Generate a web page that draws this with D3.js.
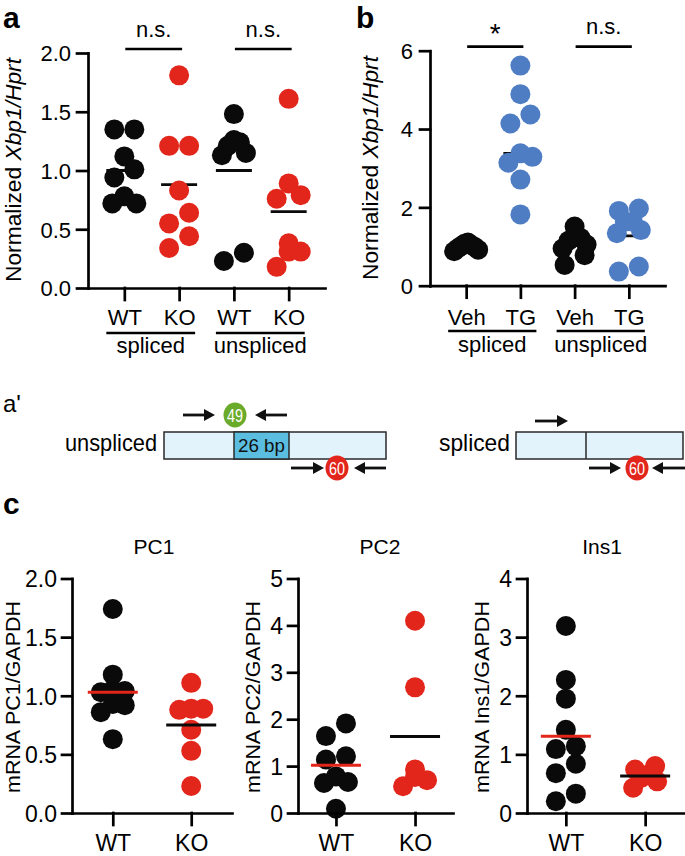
<!DOCTYPE html>
<html><head><meta charset="utf-8">
<script src="https://cdn.jsdelivr.net/npm/d3@7"></script>
<style>
body{margin:0;background:#fff}
svg{display:block}
text{font-family:"Liberation Sans",Arial,Helvetica,sans-serif}
</style>
</head><body>
<svg id="fig" width="685" height="856"></svg>
<script>
// ================= DATA =================
// panel a
const catsA = ["WT","KO","WT","KO"];
const groupsA = ["spliced","unspliced"];
const wtSplicedA   = [1.35,1.35,1.12,1.01,0.94,0.78,0.72,0.72];
const koSplicedA   = [1.81,1.21,1.21,0.83,0.64,0.55,0.44,0.34];
const wtUnsplicedA = [1.48,1.26,1.24,1.21,1.15,1.13,0.30,0.23];
const koUnsplicedA = [1.61,0.89,0.79,0.76,0.38,0.31,0.31,0.18];
const centerA = [1.00,0.88,1.00,0.65];
const sigA = ["n.s.","n.s."];
const ticksA = [0,0.5,1,1.5,2];
// panel b
const catsB = ["Veh","TG","Veh","TG"];
const groupsB = ["spliced","unspliced"];
const vehSplicedB   = [1.10,1.07,1.04,1.01,0.99,0.95,0.92,0.88];
const tgSplicedB    = [5.62,4.89,4.37,4.14,3.38,3.29,3.14,2.71,1.82];
const vehUnsplicedB = [1.51,1.28,1.22,1.15,1.05,0.95,0.78,0.53];
const tgUnsplicedB  = [1.97,1.91,1.63,1.63,1.42,1.34,0.49,0.36];
const centerB = [1.00,3.38,1.04,1.27];
const sigB = ["*","n.s."];
const ticksB = [0,2,4,6];
// panel a' (primer products)
const primerLabels = ["49","60","60"];
const diagramNames = ["unspliced","spliced"];
const insertLabel = "26 bp";
// panel c
const catsC = ["WT","KO"];
const titlesC = ["PC1","PC2","Ins1"];
const yLabelsC = ["mRNA PC1/GAPDH","mRNA PC2/GAPDH","mRNA Ins1/GAPDH"];
const pc1WT = [1.74,1.18,1.05,1.04,1.03,0.93,0.92,0.86,0.63];
const pc1KO = [1.11,0.89,0.89,0.88,0.71,0.53,0.23];
const pc2WT = [1.91,1.64,1.21,1.14,0.78,0.66,0.64,0.09];
const pc2KO = [4.10,2.68,0.93,0.77,0.70,0.57];
const ins1WT = [3.19,2.27,1.95,1.42,1.14,1.09,0.84,0.68,0.33,0.20];
const ins1KO = [0.80,0.74,0.66,0.60,0.54,0.43];
const centerPC1 = [1.03,0.75];
const centerPC2 = [1.02,1.63];
const centerIns1 = [1.31,0.63];
const ticksPC1 = [0,0.5,1,1.5,2];
const ticksPC2 = [0,1,2,3,4,5];
const ticksIns1 = [0,1,2,3,4];

// ================= DRAWING =================
const FONT = '"Liberation Sans", Arial, Helvetica, sans-serif';
const BLACK = "#0a0a0a", RED = "#e2261b", BLUE = "#4f7dc4";
const svg = d3.select("#fig");

// row-based scatter (Prism-like) offsets
function swarm(values, y, T, r) {
  const pts = values.map(v => ({v, y: y(v)})).sort((a, b) => b.y - a.y);
  const rows = []; let cur = null;
  pts.forEach(p => {
    if (!cur || Math.abs(p.y - cur[0].y) >= T) { cur = [p]; rows.push(cur); }
    else cur.push(p);
  });
  rows.forEach(row => {
    const n = row.length;
    if (n === 1) { row[0].dx = 0; return; }
    const step = n === 2 ? 2 * r : n === 3 ? 1.2 * r : 2.4 * r / (n - 1);
    const slots = d3.range(n).map(i => (i - (n - 1) / 2) * step)
      .sort((a, b) => (Math.abs(b) - Math.abs(a)) || (a - b));
    row.forEach((p, i) => p.dx = slots[i]);
  });
  return pts;
}

function dotPanel(o) {
  const g = svg.append("g");
  const y = d3.scaleLinear().domain(o.yDomain).range(o.yRange);
  const x = d3.scalePoint().domain(d3.range(o.series.length)).range([o.x0, o.x1]).padding(o.pad);
  const drawLines = () => g.append("g").selectAll("line").data(o.centers).join("line")
    .attr("x1", (d, i) => x(i) - o.half).attr("x2", (d, i) => x(i) + o.half)
    .attr("y1", d => y(d)).attr("y2", d => y(d))
    .attr("stroke", (d, i) => o.lineColors[i]).attr("stroke-width", o.lw);
  if (!o.linesOnTop) drawLines();
  o.series.forEach((vals, i) => {
    const pts = swarm(vals, y, o.T, o.r);
    g.append("g").selectAll("circle").data(pts).join("circle")
      .attr("cx", p => x(i) + p.dx).attr("cy", p => p.y).attr("r", o.r).attr("fill", o.colors[i]);
  });
  if (o.linesOnTop) drawLines();
  const ya = g.append("g").attr("transform", `translate(${o.x0},0)`)
    .call(d3.axisLeft(y).tickValues(o.ticks).tickFormat(o.fmt)
      .tickSize(o.yTick).tickSizeOuter(0).tickPadding(o.yPad));
  const xa = g.append("g").attr("transform", `translate(0,${o.yRange[0]})`)
    .call(d3.axisBottom(x).tickSize(o.xTick).tickSizeOuter(0).tickFormat(d => o.cats[d]));
  [ya, xa].forEach(a => {
    a.selectAll(".domain, line").attr("stroke", "#000").attr("stroke-width", o.aw).attr("stroke-linecap", "square");
    a.selectAll("text").attr("font-size", o.fs).attr("fill", "#000").attr("font-family", FONT);
  });
  ya.selectAll("text").attr("dy", "0.36em");
  xa.selectAll("text").attr("y", o.catBase - o.yRange[0]).attr("dy", null).attr("font-size", o.catFs || o.fs);
  return {g, x, y};
}

function yLabel(x, y, parts, fs, len) {
  const t = svg.append("text").attr("transform", `translate(${x},${y}) rotate(-90)`)
    .attr("text-anchor", "middle").attr("font-size", fs).attr("fill", "#000");
  parts.forEach(p => t.append("tspan").attr("font-style", p[1] ? "italic" : "normal").text(p[0]));
  if (len) t.attr("textLength", len).attr("lengthAdjust", "spacingAndGlyphs");
  return t;
}

function panelLetter(txt, x, y) {
  svg.append("text").attr("x", x).attr("y", y).attr("font-size", 30).attr("font-weight", "bold").text(txt);
}

// ---- panel a ----
const pa = dotPanel({
  series: [wtSplicedA, koSplicedA, wtUnsplicedA, koUnsplicedA],
  colors: [BLACK, RED, BLACK, RED], lineColors: [BLACK, BLACK, BLACK, BLACK],
  centers: centerA, cats: catsA, yDomain: [0, 2], yRange: [288, 53],
  x0: 88, x1: 325, pad: 0.663, ticks: ticksA, fmt: d3.format(".1f"),
  r: 10, T: 16, half: 18, lw: 2.8, linesOnTop: false,
  yTick: 11, yPad: 6, xTick: 12, aw: 2.7, fs: 22, catBase: 325
});
function groupDecor(p, groups, sigs, sigY, sigTextY, ulY, nameY) {
  [[0, 1], [2, 3]].forEach((pr, k) => {
    const a = p.x(pr[0]), b = p.x(pr[1]);
    svg.append("line").attr("x1", a - 18).attr("x2", b + 16).attr("y1", ulY).attr("y2", ulY)
      .attr("stroke", "#000").attr("stroke-width", 2.7);
    svg.append("text").attr("x", (a + b) / 2 - 1).attr("y", nameY).attr("text-anchor", "middle")
      .attr("font-size", 22).text(groups[k]);
    svg.append("line").attr("x1", a + 1).attr("x2", b + 3).attr("y1", sigY).attr("y2", sigY)
      .attr("stroke", "#000").attr("stroke-width", 2.7);
    const st = svg.append("text").attr("x", (a + b) / 2 + 2).attr("y", sigTextY).attr("text-anchor", "middle")
      .attr("font-size", sigs[k] === "*" ? 28 : 22).text(sigs[k]);
    if (sigs[k] === "*") st.attr("y", sigTextY + 9);
  });
}
groupDecor(pa, groupsA, sigA, 49, 37, 333, 353);
yLabel(20.5, 170, [["Normalized ", false], ["Xbp1/Hprt", true]], 22, 224);
panelLetter("a", 3, 27.5);

// ---- panel b ----
const pb = dotPanel({
  series: [vehSplicedB, tgSplicedB, vehUnsplicedB, tgUnsplicedB],
  colors: [BLACK, BLUE, BLACK, BLUE], lineColors: [BLACK, BLACK, BLACK, BLACK],
  centers: centerB, cats: catsB, yDomain: [0, 6], yRange: [285.7, 50.7],
  x0: 430, x1: 665, pad: 0.667, ticks: ticksB, fmt: d3.format("d"),
  r: 10, T: 16, half: 17, lw: 2.8, linesOnTop: false,
  yTick: 10, yPad: 7, xTick: 12, aw: 2.7, fs: 22, catBase: 325
});
groupDecor(pb, groupsB, sigB, 46.7, 34, 331, 352);
yLabel(378, 168, [["Normalized ", false], ["Xbp1/Hprt", true]], 22, 224);
panelLetter("b", 356, 27.5);

// ---- panel a' diagram ----
svg.append("text").attr("x", 3).attr("y", 412).attr("font-size", 24).text("a'");
function arrow(x1, x2, y) {
  const dir = Math.sign(x2 - x1), head = 11, hw = 6;
  svg.append("line").attr("x1", x1).attr("x2", x2 - dir * head + dir * 1).attr("y1", y).attr("y2", y)
    .attr("stroke", "#111").attr("stroke-width", 2.8);
  svg.append("path").attr("d", `M${x2},${y} L${x2 - dir * head},${y - hw} L${x2 - dir * head},${y + hw} Z`)
    .attr("fill", "#111");
}
function primer(cx, cy, label, color) {
  svg.append("ellipse").attr("cx", cx).attr("cy", cy).attr("rx", 11.5).attr("ry", 12.5).attr("fill", color);
  svg.append("text").attr("x", cx).attr("y", cy + 6.5).attr("text-anchor", "middle").attr("fill", "#fff")
    .attr("font-size", 18).attr("textLength", 16).attr("lengthAdjust", "spacingAndGlyphs").text(label);
}
// unspliced
svg.append("rect").attr("x", 164).attr("y", 432).attr("width", 222).attr("height", 27)
  .attr("fill", "#e2f3fb").attr("stroke", "#2a2a2a").attr("stroke-width", 1.5);
svg.append("rect").attr("x", 234).attr("y", 432).attr("width", 55).attr("height", 27)
  .attr("fill", "#5bbde0").attr("stroke", "#2a2a2a").attr("stroke-width", 1.5);
svg.append("text").attr("x", 261.5).attr("y", 452).attr("text-anchor", "middle").attr("font-size", 19)
  .attr("textLength", 47).attr("lengthAdjust", "spacingAndGlyphs").attr("fill", "#111").text(insertLabel);
svg.append("text").attr("x", 157).attr("y", 451).attr("text-anchor", "end").attr("font-size", 24)
  .attr("textLength", 92).attr("lengthAdjust", "spacingAndGlyphs").text(diagramNames[0]);
arrow(183, 215, 415); arrow(287, 255, 415);
primer(235, 415, primerLabels[0], "#6aab2c");
arrow(291, 324, 468); arrow(386, 354, 468);
primer(337, 468, primerLabels[1], RED);
// spliced
svg.append("rect").attr("x", 516).attr("y", 432).attr("width", 167).attr("height", 27)
  .attr("fill", "#e2f3fb").attr("stroke", "#2a2a2a").attr("stroke-width", 1.5);
svg.append("line").attr("x1", 586).attr("x2", 586).attr("y1", 432).attr("y2", 459)
  .attr("stroke", "#2a2a2a").attr("stroke-width", 1.5);
svg.append("text").attr("x", 510).attr("y", 451).attr("text-anchor", "end").attr("font-size", 24)
  .attr("textLength", 71).attr("lengthAdjust", "spacingAndGlyphs").text(diagramNames[1]);
arrow(535, 568, 421);
arrow(589, 621, 468); arrow(685, 652, 468);
primer(637, 468, primerLabels[2], RED);

// ---- panel c ----
panelLetter("c", 3, 514);
const cfgC = [
  {series: [pc1WT, pc1KO], centers: centerPC1, ticks: ticksPC1, dom: [0, 2], fmt: d3.format(".1f"),
   x0: 72, x1: 232, pad: 0.52, lab: 20, title: 154},
  {series: [pc2WT, pc2KO], centers: centerPC2, ticks: ticksPC2, dom: [0, 5], fmt: d3.format("d"),
   x0: 298, x1: 453, pad: 0.48, lab: 260, title: 380},
  {series: [ins1WT, ins1KO], centers: centerIns1, ticks: ticksIns1, dom: [0, 4], fmt: d3.format("d"),
   x0: 527, x1: 684, pad: 0.49, lab: 489, title: 602}
];
cfgC.forEach((c, k) => {
  dotPanel({
    series: c.series, colors: [BLACK, RED], lineColors: [RED, BLACK],
    centers: c.centers, cats: catsC, yDomain: c.dom, yRange: [813, 578.5],
    x0: c.x0, x1: c.x1, pad: c.pad, ticks: c.ticks, fmt: c.fmt,
    r: 10, T: 16, half: 25, lw: 3, linesOnTop: true,
    yTick: 10, yPad: 5, xTick: 12, aw: 2.7, fs: 23, catFs: 23, catBase: 850.5
  });
  svg.append("text").attr("x", c.title).attr("y", 554).attr("text-anchor", "middle")
    .attr("font-size", 21).text(titlesC[k]);
  yLabel(c.lab, 697, [[yLabelsC[k], false]], 21, 192);
});
</script>
</body></html>
